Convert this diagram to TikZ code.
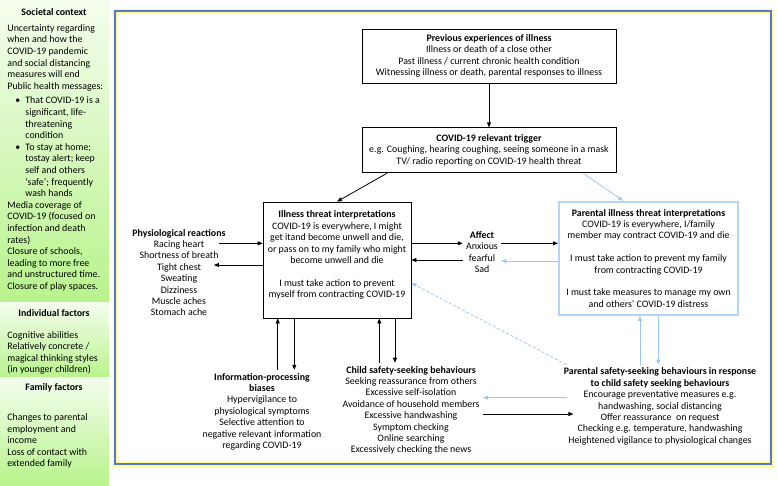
\documentclass[tikz,border=0pt]{standalone}
\usepackage{fontspec}
\setmainfont{Carlito}
\usetikzlibrary{arrows.meta, positioning, calc}
\definecolor{sidetop}{RGB}{244,253,238}
\definecolor{sidebot}{RGB}{184,243,140}
\definecolor{framebl}{RGB}{88,120,200}
\definecolor{frameyl}{RGB}{255,255,140}
\definecolor{lblue}{RGB}{160,200,245}
\definecolor{pblue}{RGB}{180,212,248}
\newcommand{\dgfont}{\fontsize{9.9}{11.4}\selectfont}
\newcommand{\sdfont}{\fontsize{9.9}{11.6}\selectfont}
\newcommand{\bul}{\makebox[18pt][l]{\hspace*{8pt}\textbullet}}
\newcommand{\ind}{\hspace*{18pt}}
\tikzset{
  ibox/.style={draw, line width=0.8pt, align=center, inner sep=2pt, font=\dgfont},
  pbox/.style={draw=pblue, line width=2pt, align=center, inner sep=2pt, font=\dgfont},
  txt/.style={align=center, inner sep=3pt, font=\dgfont},
  sidehead/.style={font=\dgfont\bfseries, inner sep=1pt},
  sidetxt/.style={align=left, inner sep=1pt, font=\sdfont},
  lb/.style={draw=lblue, line width=0.8pt}
}

\begin{document}
\begin{tikzpicture}[x=1pt, y=-1pt, line width=0.8pt, >={Triangle[length=5pt, width=4pt]}]
  \useasboundingbox (0,0) rectangle (778,485);
  \fill[white] (0,0) rectangle (778,485);
  % side panel
  \shade[top color=sidetop, bottom color=sidebot] (0,0) rectangle (108.7,302);
  \shade[top color=sidetop, bottom color=sidebot] (0,302) rectangle (108.7,377);
  \shade[top color=sidetop, bottom color=sidebot] (0,377) rectangle (108.7,485);
  \node[sidehead] (soch) at (54,11.7) {Societal context};
  \node[sidetxt, anchor=north west] (soct) at (6,23) {Uncertainty regarding\\ when and how the\\ COVID-19 pandemic\\ and social distancing\\ measures will end\\ Public health messages:\\[3pt]
    \bul That COVID-19 is a\\ \ind significant, life-\\ \ind threatening\\ \ind condition\\
    \bul To stay at home;\\ \ind tostay alert; keep\\ \ind self and others\\ \ind ‘safe’; frequently\\ \ind wash hands\\
    Media coverage of\\ COVID-19 (focused on\\ infection and death\\ rates)\\ Closure of schools,\\ leading to more free\\ and unstructured time.\\ Closure of play spaces.};
  \node[sidehead] (indh) at (54,313) {Individual factors};
  \node[sidetxt, anchor=west] (indt) at (6,353) {Cognitive abilities\\ Relatively concrete /\\ magical thinking styles\\ (in younger children)};
  \node[sidehead] (famh) at (54,388) {Family factors};
  \node[sidetxt, anchor=west] (famt) at (6,441) {Changes to parental\\ employment and\\ income\\ Loss of contact with\\ extended family};
  % frame
  \draw[frameyl, line width=5pt] (115,11) rectangle (771,464);
  \draw[framebl, line width=1.4pt] (115,11) rectangle (771,464);
  % boxes
  \node[ibox, minimum width=254pt, minimum height=54pt] (prev) at (489,56) {\textbf{Previous experiences of illness}\\ Illness or death of a close other\\ Past illness / current chronic health condition\\ Witnessing illness or death, parental responses to illness};
  \node[ibox, minimum width=254pt, minimum height=45pt] (trig) at (489,150.3) {\textbf{COVID-19 relevant trigger}\\ e.g. Coughing, hearing coughing, seeing someone in a mask\\ TV/ radio reporting on COVID-19 health threat};
  \node[ibox, minimum width=148pt, minimum height=116pt] (ill) at (337,260) {\textbf{Illness threat interpretations}\\ COVID-19 is everywhere, I might\\ get itand become unwell and die,\\ or pass on to my family who might\\ become unwell and die\\ \mbox{}\\ I must take action to prevent\\ myself from contracting COVID-19\\ \mbox{}};
  \node[pbox, minimum width=179pt, minimum height=113pt] (par) at (648.5,258.3) {\textbf{Parental illness threat interpretations}\\ COVID-19 is everywhere, I/family\\ member may contract COVID-19 and die\\ \mbox{}\\ I must take action to prevent my family\\ from contracting COVID-19\\ \mbox{}\\ I must take measures to manage my own\\ and others’ COVID-19 distress};
  % free text
  \node[txt] (phys) at (179,272.5) {\textbf{Physiological reactions}\\ Racing heart\\ Shortness of breath\\ Tight chest\\ Sweating\\ Dizziness\\ Muscle aches\\ Stomach ache};
  \node[txt] (aff) at (482,252) {\textbf{Affect}\\ Anxious\\ fearful\\ Sad};
  \node[txt] (info) at (262,411.7) {\textbf{Information-processing}\\ \textbf{biases}\\ Hypervigilance to\\ physiological symptoms\\ Selective attention to\\ negative relevant information\\ regarding COVID-19};
  \node[txt] (child) at (411,410.3) {\textbf{Child safety-seeking behaviours}\\ Seeking reassurance from others\\ Excessive self-isolation\\ Avoidance of household members\\ Excessive handwashing\\ Symptom checking\\ Online searching\\ Excessively checking the news};
  \node[txt] (psafe) at (660,406.5) {\textbf{Parental safety-seeking behaviours in response}\\ \textbf{to child safety seeking behaviours}\\ Encourage preventative measures e.g.\\ handwashing, social distancing\\ Offer reassurance\ \ on request\\ Checking e.g. temperature, handwashing\\ Heightened vigilance to physiological changes};
  % levels for the arrows
  \coordinate (ya) at (0,243.3);
  \coordinate (yb) at (0,265);
  \coordinate (yc) at (0,260);
  \coordinate (yd) at (0,261);
  \coordinate (ye) at (0,397.7);
  \coordinate (yf) at (0,414);
  \coordinate (yg) at (0,283);
  \coordinate (xa) at (277.7,0);
  \coordinate (xb) at (294.3,0);
  \coordinate (xc) at (379.3,0);
  \coordinate (xd) at (395,0);
  \coordinate (xe) at (640,0);
  \coordinate (xf) at (658.3,0);
  % arrows
  \draw[->] (prev) -- (trig);
  \draw[->] ($(trig.south west)!0.1!(trig.south east)$) -- (ill.north);
  \draw[lb, ->] ($(trig.south west)!0.87!(trig.south east)$) -- ($(par.north west)!0.36!(par.north east)$);
  \draw[->] ($(phys.east |- ya)+(-10,0)$) -- (ill.west |- ya);
  \draw[->] (ill.west |- yb) -- ($(phys.east |- yb)+(-15,0)$);
  \draw[->] (ill.east |- ya) -- (aff.west |- ya);
  \draw[->] (aff.west |- yc) -- (ill.east |- yc);
  \draw[->] (aff.east |- ya) -- (par.west |- ya);
  \draw[lb, ->] (par.west |- yd) -- (aff.east |- yd);
  \draw[->] (info.north -| xa) -- (ill.south -| xa);
  \draw[->] (ill.south -| xb) -- (info.north -| xb);
  \draw[->] (child.north -| xc) -- (ill.south -| xc);
  \draw[->] (ill.south -| xd) -- (child.north -| xd);
  \draw[lb, ->] (psafe.north -| xe) -- (par.south -| xe);
  \draw[lb, ->] (par.south -| xf) -- (psafe.north -| xf);
  \draw[lb, ->] ($(psafe.west |- ye)+(7,0)$) -- (child.east |- ye);
  \draw[->] (child.east |- yf) -- ($(psafe.west |- yf)+(13,0)$);
  \draw[lb, dash pattern=on 3pt off 2pt, ->] ($(psafe.north west)+(6,0)$) -- (ill.east |- yg);
\end{tikzpicture}
\end{document}
